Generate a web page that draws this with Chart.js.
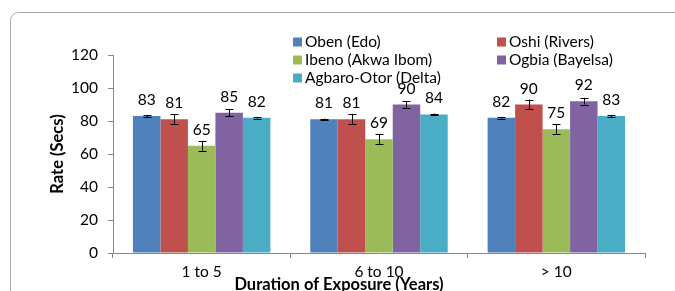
<!DOCTYPE html>
<html><head><meta charset="utf-8">
<script src="https://cdn.jsdelivr.net/npm/chart.js@4"></script>
<style>html,body{margin:0;padding:0;background:#fff}#wrap{width:675px;height:291px;position:relative}</style>
</head><body><div id="wrap"><canvas id="c" width="675" height="291"></canvas></div>
<script>
const categories = ['1 to 5', '6 to 10', '> 10'];
const seriesNames = ['Oben (Edo)', 'Oshi (Rivers)', 'Ibeno (Akwa Ibom)', 'Ogbia (Bayelsa)', 'Agbaro-Otor (Delta)'];
const oben = [83, 81, 82];
const oshi = [81, 81, 90];
const ibeno = [65, 69, 75];
const ogbia = [85, 90, 92];
const agbaro = [82, 84, 83];
const obenErr = [0.5, 0.5, 0.5];
const oshiErr = [3, 3, 3];
const ibenoErr = [3, 3, 3];
const ogbiaErr = [2, 2, 2];
const agbaroErr = [0.5, 0.5, 0.5];
const yTicks = [0, 20, 40, 60, 80, 100, 120];
const yTitle = 'Rate (Secs)';
const xTitle = 'Duration of Exposure (Years)';

const colors = ['#4F81BD', '#C0504D', '#9BBB59', '#8064A2', '#4BACC6'];
const values = [oben, oshi, ibeno, ogbia, agbaro];
const errors = [obenErr, oshiErr, ibenoErr, ogbiaErr, agbaroErr];
const FONT = 'Lato, "Open Sans", sans-serif';
const FS = 15.5;

const decor = {
  id: 'decor',
  beforeDraw(chart) {
    const ctx = chart.ctx;
    ctx.save();
    ctx.strokeStyle = '#a6a6a6';
    ctx.lineWidth = 1;
    ctx.beginPath();
    ctx.roundRect(10.5, 12.5, 720, 320, 8);
    ctx.stroke();
    ctx.restore();
  },
  afterDatasetsDraw(chart) {
    const ctx = chart.ctx;
    const ys = chart.scales.y;
    ctx.save();
    chart.data.datasets.forEach((ds, i) => {
      const meta = chart.getDatasetMeta(i);
      meta.data.forEach((bar, j) => {
        const v = ds.data[j], e = errors[i][j];
        const x = Math.round(bar.x) + 0.5;
        const yTop = ys.getPixelForValue(v + e), yBot = ys.getPixelForValue(v - e);
        ctx.strokeStyle = '#000';
        ctx.lineWidth = 1;
        ctx.beginPath();
        ctx.moveTo(x, yTop); ctx.lineTo(x, yBot);
        ctx.moveTo(x - 4, Math.round(yTop) + 0.5); ctx.lineTo(x + 4, Math.round(yTop) + 0.5);
        ctx.moveTo(x - 4, Math.round(yBot) + 0.5); ctx.lineTo(x + 4, Math.round(yBot) + 0.5);
        ctx.stroke();
        ctx.fillStyle = '#000';
        ctx.font = FS + 'px ' + FONT;
        ctx.textAlign = 'center';
        ctx.textBaseline = 'middle';
        ctx.fillText(String(v), bar.x, ys.getPixelForValue(v) - 16);
      });
    });
    // legend (two columns, row-major)
    ctx.font = FS + 'px ' + FONT;
    ctx.textAlign = 'left';
    ctx.textBaseline = 'middle';
    const colX = [293, 497], rowY = [42, 60, 78];
    seriesNames.forEach((name, i) => {
      const cx = colX[i % 2], cy = rowY[Math.floor(i / 2)];
      ctx.fillStyle = colors[i];
      ctx.fillRect(cx, cy - 4.5, 9, 9);
      ctx.fillStyle = '#000';
      ctx.fillText(name, cx + 12, cy);
    });
    // axis titles
    ctx.font = 'bold 16.5px ' + FONT;
    ctx.textAlign = 'center';
    ctx.fillText(xTitle, 339, 285);
    ctx.translate(58, (chart.chartArea.top + chart.chartArea.bottom) / 2);
    ctx.rotate(-Math.PI / 2);
    ctx.fillText(yTitle, 0, 0);
    ctx.restore();
  }
};

new Chart(document.getElementById('c'), {
  type: 'bar',
  data: {
    labels: categories,
    datasets: seriesNames.map((n, i) => ({
      label: n, data: values[i], backgroundColor: colors[i], borderWidth: 0,
      barPercentage: 1, categoryPercentage: 0.775
    }))
  },
  options: {
    responsive: false, animation: false,
    layout: { padding: { left: 10, right: 30, top: 55, bottom: 0 } },
    plugins: { legend: { display: false }, tooltip: { enabled: false } },
    scales: {
      x: {
        grid: { display: true, drawOnChartArea: false, drawTicks: true, tickLength: 5, color: '#868686', offset: true },
        border: { color: '#868686', width: 1 },
        ticks: { color: '#000', font: { family: FONT, size: FS }, padding: 5 },
        afterFit(s) { s.height = 38; }
      },
      y: {
        min: 0, max: 120,
        afterBuildTicks(s) { s.ticks = yTicks.map(v => ({ value: v })); },
        grid: { display: true, drawOnChartArea: false, drawTicks: true, tickLength: 5, color: '#868686' },
        border: { color: '#868686', width: 1 },
        ticks: { color: '#000', font: { family: FONT, size: FS }, padding: 10 },
        afterFit(s) { s.width = 103; }
      }
    }
  },
  plugins: [decor]
});
</script></body></html>
